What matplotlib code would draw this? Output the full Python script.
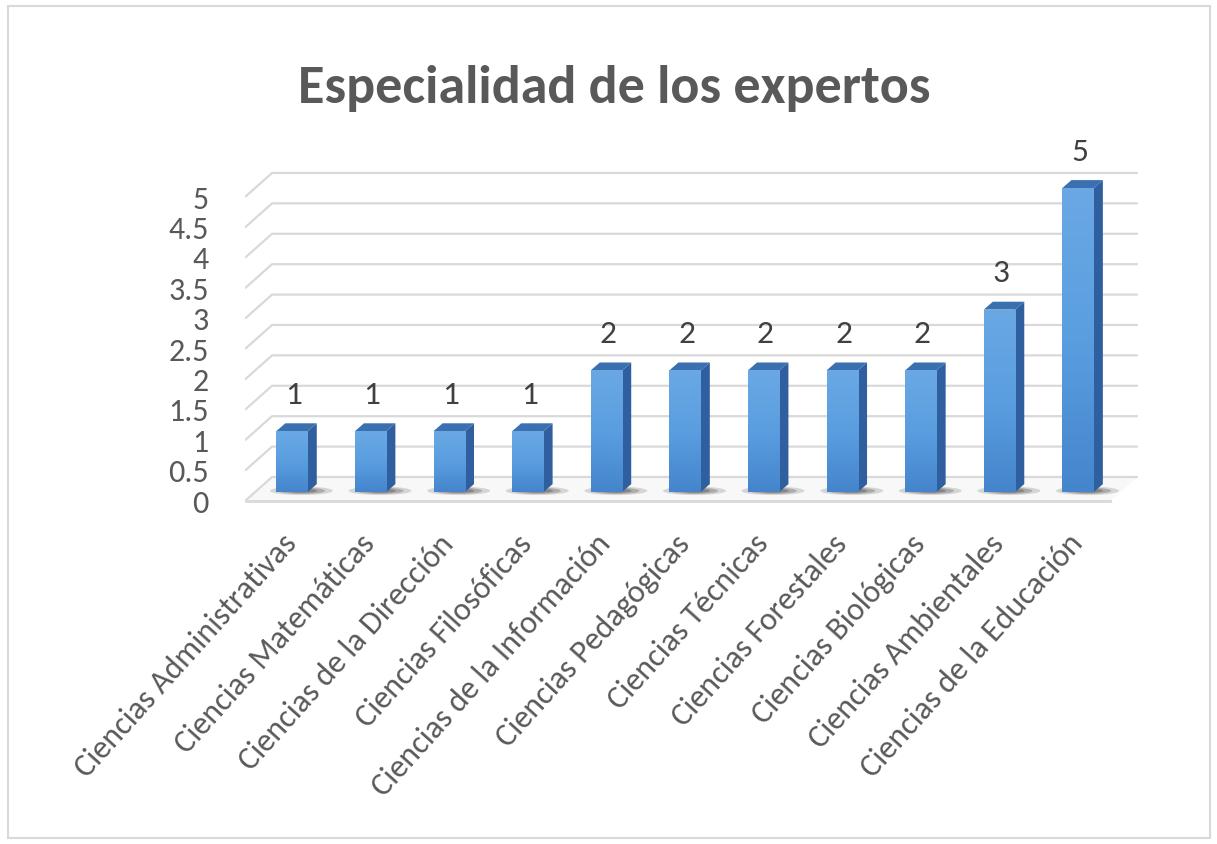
import numpy as np
import matplotlib.pyplot as plt
from matplotlib import font_manager
from matplotlib.colors import LinearSegmentedColormap
from matplotlib.patches import Polygon, Ellipse, Rectangle
from matplotlib.transforms import ScaledTranslation

categories = [
    "Ciencias Administrativas",
    "Ciencias Matemáticas",
    "Ciencias de la Dirección",
    "Ciencias Filosóficas",
    "Ciencias de la Información",
    "Ciencias Pedagógicas",
    "Ciencias Técnicas",
    "Ciencias Forestales",
    "Ciencias Biológicas",
    "Ciencias Ambientales",
    "Ciencias de la Educación",
]
counts = [1, 1, 1, 1, 2, 2, 2, 2, 2, 3, 5]
y_ticks = [0, 0.5, 1, 1.5, 2, 2.5, 3, 3.5, 4, 4.5, 5]
y_tick_labels = ["0", "0.5", "1", "1.5", "2", "2.5", "3", "3.5", "4", "4.5", "5"]
title = "Especialidad de los expertos"

installed = {f.name for f in font_manager.fontManager.ttflist}


def pick(*names):
    for n in names:
        if n in installed:
            return n
    return "DejaVu Sans"


FONT = pick("Carlito", "Liberation Sans Narrow", "Liberation Sans")
plt.rcParams["font.family"] = [FONT, "DejaVu Sans"]

TEXT = "#595959"
GRID = "#D9D9D9"
FRONT = "#5094D8"
SIDE = "#2F5F9E"
TOP = "#3A6FB0"

# fake-3D geometry (data units)
BAR_W = 0.40
DX, DY = 0.115, 0.13          # bar depth
FRONT_OFF = -0.148            # front edge of the floor / axis labels
BACK_OFF = 0.247              # back wall
WALL_L, WALL_R = -0.254, 10.76
XMIN, XMAX = -0.598, 10.80
YMIN, YMAX = -0.296, 5.806

W, H = 1217, 844
fig = plt.figure(figsize=(W / 100, H / 100), dpi=100)
ax = fig.add_axes([245 / W, 1 - 510 / H, 896 / W, 371 / H])
for s in ax.spines.values():
    s.set_visible(False)

x = np.arange(len(categories))

# back wall gridlines with the slanted side wall segment
for v in y_ticks:
    ax.plot([XMIN, WALL_L, WALL_R], [v + FRONT_OFF, v + BACK_OFF, v + BACK_OFF],
            color=GRID, lw=1.6, zorder=1, solid_capstyle="butt")

# floor
floor_r = 10.41
ax.add_patch(Polygon([(XMIN, FRONT_OFF), (WALL_L, BACK_OFF), (WALL_R, BACK_OFF),
                      (floor_r, FRONT_OFF)], closed=True, fc="#F8F8F8", ec="none",
                     zorder=0.5))
ax.plot([XMIN, floor_r], [FRONT_OFF, FRONT_OFF], color=GRID, lw=2.0, zorder=1)

# soft shadows under the bars
for xi in x:
    for k, a in [(1.0, 0.2), (0.75, 0.3), (0.5, 0.4)]:
        ax.add_patch(Ellipse((xi + 0.12, 0.02), 0.8 * k, 0.14 * k,
                             fc="#4A4A4A", ec="none", alpha=a, zorder=2))

# bars: front faces via ax.bar, plus side and top faces
bars = ax.bar(x, counts, width=BAR_W, color=FRONT, zorder=4, linewidth=0)
grad = np.linspace(0, 1, 64).reshape(-1, 1)
cmap = LinearSegmentedColormap.from_list("front", ["#4585CC", "#5A9EE0", "#6AA8E4"])
for xi, c, b in zip(x, counts, bars):
    im = ax.imshow(grad, cmap=cmap, aspect="auto", origin="lower",
                   extent=(xi - BAR_W / 2, xi + BAR_W / 2, 0, c), zorder=4.5)
    im.set_clip_path(b)
    r = xi + BAR_W / 2
    ax.add_patch(Polygon([(r, 0), (r + DX, DY), (r + DX, c + DY), (r, c)],
                         closed=True, fc=SIDE, ec="none", zorder=4))
    ax.add_patch(Polygon([(xi - BAR_W / 2, c), (r, c), (r + DX, c + DY),
                          (xi - BAR_W / 2 + DX, c + DY)],
                         closed=True, fc=TOP, ec="none", zorder=4))
    ax.annotate(str(c), (xi, c), xytext=(1, 26), textcoords="offset points",
                ha="center", va="center", fontsize=24, color="#404040")

ax.set_xlim(XMIN, XMAX)
ax.set_ylim(YMIN, YMAX)

ax.set_yticks(np.array(y_ticks) + FRONT_OFF)
ax.set_yticklabels(y_tick_labels)
ax.tick_params(axis="y", length=0, pad=26, labelsize=23, labelcolor=TEXT)

ax.set_xticks(x)
ax.set_xticklabels(categories, rotation=48, ha="right", va="top",
                   rotation_mode="anchor")
ax.tick_params(axis="x", length=0, pad=14, labelsize=23, labelcolor=TEXT)
shift = ScaledTranslation(-8 / 72, 0, fig.dpi_scale_trans)
for lbl in ax.get_xticklabels():
    lbl.set_transform(lbl.get_transform() + shift)

fig.text(614 / W, 1 - 88 / H, title, ha="center", va="center", fontsize=39,
         fontweight="bold", color=TEXT)

fig.add_artist(Rectangle((8 / W, 6 / H), 1202 / W, 832 / H,
                         transform=fig.transFigure, fill=False,
                         ec="#D9D9D9", lw=1.5))

fig.savefig("out.png", dpi=100)
